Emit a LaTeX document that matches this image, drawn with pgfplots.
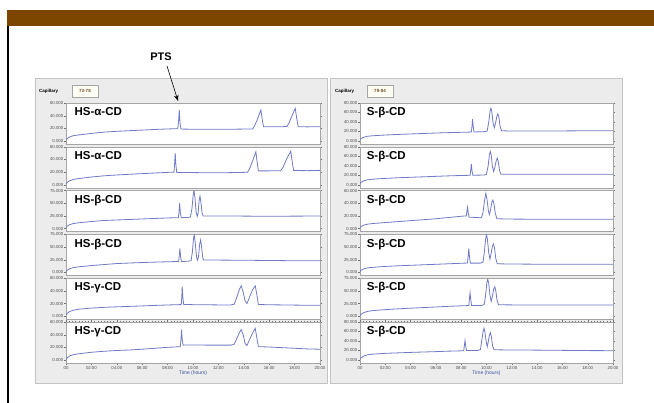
\documentclass[border=0pt]{standalone}
\usepackage{pgfplots}
\pgfplotsset{compat=1.18}
\usepackage{fontspec}
\setmainfont{Liberation Sans}
\usetikzlibrary{arrows.meta}
\definecolor{brownbar}{RGB}{124,70,0}
\definecolor{trc}{RGB}{112,122,198}
\definecolor{panelbg}{RGB}{236,236,236}
\definecolor{panelln}{RGB}{195,195,195}
\definecolor{framec}{RGB}{165,165,165}
\definecolor{xlabc}{RGB}{60,80,160}
\newcommand{\tk}{\fontsize{4.3}{5}\selectfont}
\newcommand{\lab}{\fontsize{11.5}{12}\selectfont\bfseries}
\pgfplotsset{
  strip/.style={scale only axis, height=41pt, xmin=0, xmax=20, anchor=north west,
    axis background/.style={fill=white},
    axis line style={draw=framec, line width=0.4pt},
    xtick=\empty,
    tick align=outside, major tick length=2pt,
    tick style={black!55, line width=0.3pt},
    yticklabel style={font=\tk, text=black!70, inner sep=0.6pt,
      /pgf/number format/.cd, fixed, fixed zerofill, precision=3, 1000 sep={}, assume math mode=true},
  },
  L/.style={strip, width=254pt, at={(66pt,#1pt)}},
  R/.style={strip, width=253pt, at={(360pt,#1pt)}},
  s60/.style={ymin=-4.74, ymax=60, ytick={0,20,40,60}},
  s75/.style={ymin=-5.92, ymax=75, ytick={0,25,50,75}},
  s80/.style={ymin=-6.32, ymax=80, ytick={0,20,40,60,80}},
  bottom/.style={xtick={0,2,...,20},
    xticklabels={00,02:00,04:00,06:00,08:00,10:00,12:00,14:00,16:00,18:00,20:00},
    minor x tick num=7, minor tick length=1pt,
    xticklabel style={font=\tk, text=black!70, inner sep=1pt,
      /pgf/number format/assume math mode=true},
    xlabel={Time (hours)},
    xlabel style={font=\fontsize{5}{6}\selectfont, text=xlabc, inner sep=1pt, yshift=1pt}},
  tr/.style={trc, line width=0.8pt, mark=none},
}
\begin{document}
\begin{tikzpicture}
\useasboundingbox (0,0) rectangle (654pt,403pt);
\fill[white] (0,0) rectangle (654pt,403pt);
\fill[brownbar] (7pt,393pt) rectangle (654pt,377pt);
\draw[black, line width=1.1pt] (8pt,377pt) -- (8pt,0pt);
% panels
\filldraw[fill=panelbg, draw=panelln, line width=0.8pt] (35pt,325pt) rectangle (327pt,20pt);
\filldraw[fill=panelbg, draw=panelln, line width=0.8pt] (330pt,325pt) rectangle (622pt,20pt);
\node[font=\fontsize{4.5}{5}\selectfont\bfseries, anchor=west, inner sep=0] at (39pt,312pt) {Capillary};
\filldraw[fill=yellow!4, draw=black!35, line width=0.3pt] (72pt,318pt) rectangle (98pt,306pt);
\node[font=\fontsize{4.5}{5}\selectfont\bfseries, text=brown!60!black, inner sep=0] at (85pt,312pt) {73-78};
\node[font=\fontsize{4.5}{5}\selectfont\bfseries, anchor=west, inner sep=0] at (335pt,312pt) {Capillary};
\filldraw[fill=yellow!4, draw=black!35, line width=0.3pt] (367pt,318pt) rectangle (393pt,306pt);
\node[font=\fontsize{4.5}{5}\selectfont\bfseries, text=brown!60!black, inner sep=0] at (380pt,312pt) {79-84};
% PTS
\node[font=\fontsize{11}{12}\selectfont\bfseries, inner sep=0] at (161pt,346pt) {PTS};
\draw[black, line width=0.6pt, -{Stealth[length=6pt,width=4.5pt]}] (167pt,337pt) -- (178pt,302pt);

% ---------------- LEFT PANEL ----------------
\begin{axis}[L=300, s60]
\addplot[tr] coordinates {(0,1.5)(0.1,4)(0.3,6.5)(0.6,8.5)(1,9.5)(2,12)(3,14)(4,15.3)(5,16.3)(6,17.2)(7,18.2)(8,19)(8.8,19.5)(8.86,30)(8.92,49)(8.98,28)(9.05,18.8)(10,18.6)(11,18.4)(12,18.5)(13,18.6)(14,18.8)(14.7,19)(14.85,24)(15.05,33)(15.25,44)(15.35,49)(15.45,34)(15.55,22.5)(16,22.5)(17,22.5)(17.4,23)(17.55,28)(17.8,40)(18.05,51.5)(18.15,38)(18.28,22.5)(19,22.3)(20,22.5)};
\node[font=\lab, anchor=base west, inner sep=0] at (rel axis cs:0.033,0.69) {HS-α-CD};
\end{axis}
\begin{axis}[L=256.2, s60]
\addplot[tr] coordinates {(0,1)(0.1,4)(0.3,6.5)(0.6,8.5)(1,9.8)(2,12.3)(3,14.2)(4,15.5)(5,16.6)(6,17.6)(7,18.6)(8,19.6)(8.5,20)(8.55,32)(8.6,50)(8.66,30)(8.72,19.5)(9.5,19.5)(10,19.3)(11,19)(12,19)(13,19.2)(14,19.6)(14.3,20)(14.45,25)(14.7,38)(14.95,52)(15.05,36)(15.15,22)(16,22)(16.9,22.3)(17.1,28)(17.4,42)(17.7,53)(17.8,38)(17.92,22.5)(19,22.3)(20,22.8)};
\node[font=\lab, anchor=base west, inner sep=0] at (rel axis cs:0.033,0.69) {HS-α-CD};
\end{axis}
\begin{axis}[L=212.4, s75]
\addplot[tr] coordinates {(0,2)(0.1,5)(0.3,8)(0.6,10)(1,11.5)(2,14)(3,16)(4,17)(5,18)(6,19)(7,20)(8,21)(8.85,21.5)(8.9,33)(8.95,50)(9.0,32)(9.07,21.5)(9.6,22)(9.8,23)(9.92,40)(10.02,68)(10.08,75)(10.15,62)(10.25,32)(10.33,24)(10.4,30)(10.48,55)(10.55,64)(10.62,52)(10.72,30)(10.8,25)(11.5,24.8)(13,24.8)(15,24.5)(17,24.5)(19,24.7)(20,25)};
\node[font=\lab, anchor=base west, inner sep=0] at (rel axis cs:0.033,0.69) {HS-β-CD};
\end{axis}
\begin{axis}[L=168.6, s75]
\addplot[tr] coordinates {(0,1.5)(0.1,4.5)(0.3,7.5)(0.6,9.5)(1,11)(2,13.5)(3,15.5)(4,17.5)(5,18.5)(6,19.5)(7,20.3)(8,21)(8.87,21.5)(8.92,33)(8.97,47.5)(9.02,32)(9.09,21.5)(9.6,22)(9.85,23)(9.95,40)(10.04,67)(10.1,74)(10.17,60)(10.28,30)(10.36,24)(10.43,30)(10.52,55)(10.6,64)(10.67,52)(10.77,28)(10.85,24.5)(12,24.3)(14,24)(16,23.5)(18,23)(20,22.8)};
\node[font=\lab, anchor=base west, inner sep=0] at (rel axis cs:0.033,0.69) {HS-β-CD};
\end{axis}
\begin{axis}[L=124.8, s60]
\addplot[tr] coordinates {(0,1.5)(0.1,4.5)(0.3,7.5)(0.6,9.5)(1,11)(2,12.8)(3,14)(4,14.8)(5,15.5)(6,16.2)(7,17)(8,17.7)(9,18.3)(9.08,19)(9.12,32)(9.15,47)(9.2,30)(9.27,18.5)(10,18.2)(11,18)(12,17.8)(13,17.8)(13.25,19)(13.45,30)(13.65,42)(13.8,48)(13.95,38)(14.1,24)(14.25,20)(14.45,30)(14.7,42)(14.9,48)(15.02,35)(15.15,18.5)(16,18)(17,17.8)(18,17.5)(19,17.3)(20,17.2)};
\node[font=\lab, anchor=base west, inner sep=0] at (rel axis cs:0.033,0.69) {HS-γ-CD};
\end{axis}
\begin{axis}[L=81.0, s60, bottom]
\addplot[tr] coordinates {(0,0.5)(0.1,3.5)(0.3,6.5)(0.6,8.5)(1,9.8)(2,12.2)(3,13.8)(4,15)(5,15.8)(6,17)(7,18.5)(8,20)(9,21)(9.05,32)(9.1,48)(9.15,32)(9.22,23.5)(10,23.7)(11,23.5)(12,23.5)(13,23.5)(13.25,25)(13.45,34)(13.65,43)(13.8,48)(13.95,40)(14.1,26)(14.25,23)(14.45,32)(14.7,43)(14.9,50)(15.02,36)(15.15,21)(16,20.5)(17,19.5)(18,18.5)(19,17.5)(20,17)};
\node[font=\lab, anchor=base west, inner sep=0] at (rel axis cs:0.033,0.69) {HS-γ-CD};
\end{axis}

% ---------------- RIGHT PANEL ----------------
\begin{axis}[R=300, s80]
\addplot[tr] coordinates {(0,2)(0.1,5.5)(0.3,8)(0.6,10)(1,11)(2,12.6)(3,13.8)(4,14.8)(5,15.8)(6,16.8)(7,17.6)(8,18.3)(8.8,18.8)(8.85,30)(8.9,46)(8.95,30)(9.02,19)(9.8,19.5)(10.05,21)(10.18,40)(10.28,62)(10.35,69)(10.42,62)(10.52,38)(10.62,28)(10.72,38)(10.82,52)(10.9,57)(10.98,50)(11.08,30)(11.2,21.5)(12,21)(14,21)(16,21.2)(18,21.5)(20,21.7)};
\node[font=\lab, anchor=base west, inner sep=0] at (rel axis cs:0.026,0.69) {S-β-CD};
\end{axis}
\begin{axis}[R=256.2, s80]
\addplot[tr] coordinates {(0,2)(0.1,5.5)(0.3,8.5)(0.6,10.5)(1,11.8)(2,13.5)(3,14.8)(4,15.8)(5,16.8)(6,17.8)(7,18.8)(8,19.6)(8.7,20)(8.75,30)(8.8,44)(8.85,30)(8.92,20.2)(9.8,20.5)(10.0,22)(10.13,40)(10.23,63)(10.3,70)(10.37,63)(10.47,38)(10.57,28)(10.67,38)(10.77,51)(10.85,56)(10.93,49)(11.03,30)(11.15,22)(12,22)(14,22)(16,22.2)(18,22)(20,22)};
\node[font=\lab, anchor=base west, inner sep=0] at (rel axis cs:0.026,0.69) {S-β-CD};
\end{axis}
\begin{axis}[R=212.4, s60]
\addplot[tr] coordinates {(0,1.5)(0.1,3.5)(0.3,5.5)(0.6,7)(1,8)(2,9.5)(3,11)(4,12.5)(5,14)(6,15.5)(7,17.5)(8,19.5)(8.4,20)(8.45,27)(8.5,33.6)(8.55,26)(8.62,18)(9.2,17.5)(9.6,17)(9.72,25)(9.85,45)(9.95,55.7)(10.05,45)(10.15,28)(10.23,22)(10.32,30)(10.42,41)(10.5,45)(10.58,40)(10.7,24)(10.82,15.5)(12,15)(14,14.8)(16,14.8)(18,14.7)(20,14.7)};
\node[font=\lab, anchor=base west, inner sep=0] at (rel axis cs:0.026,0.69) {S-β-CD};
\end{axis}
\begin{axis}[R=168.6, s75]
\addplot[tr] coordinates {(0,1.5)(0.1,4.5)(0.3,7)(0.6,9)(1,10)(2,11.8)(3,13)(4,14)(5,15)(6,16)(7,17)(8,18)(8.5,18.5)(8.55,32)(8.6,47.5)(8.65,32)(8.72,18.3)(9.5,18.3)(9.72,20)(9.83,40)(9.93,66)(10,73.8)(10.07,66)(10.18,38)(10.27,26)(10.37,38)(10.47,52)(10.55,56)(10.63,49)(10.73,28)(10.85,17)(12,16.5)(14,16.2)(16,16)(18,16)(20,16)};
\node[font=\lab, anchor=base west, inner sep=0] at (rel axis cs:0.026,0.69) {S-β-CD};
\end{axis}
\begin{axis}[R=124.8, s75]
\addplot[tr] coordinates {(0,1)(0.1,4)(0.3,7)(0.6,9.5)(1,11)(2,13)(3,14.5)(4,15.8)(5,17)(6,18.2)(7,19.5)(8,20.5)(8.6,21)(8.65,34)(8.7,46.4)(8.75,34)(8.82,21)(9.6,21.2)(9.82,23)(9.93,42)(10.03,66)(10.1,72.8)(10.17,66)(10.28,40)(10.37,29)(10.47,40)(10.57,54)(10.65,58.2)(10.73,51)(10.83,32)(10.95,22.5)(12,22.3)(14,22)(16,22)(18,22)(20,22)};
\node[font=\lab, anchor=base west, inner sep=0] at (rel axis cs:0.026,0.69) {S-β-CD};
\end{axis}
\begin{axis}[R=81.0, s80, bottom]
\addplot[tr] coordinates {(0,1)(0.1,5)(0.3,8.5)(0.6,11)(1,12.3)(2,14)(3,15)(4,16)(5,16.8)(6,17.6)(7,18.6)(8,19.3)(8.2,19.6)(8.25,30)(8.3,40.7)(8.35,30)(8.42,19.8)(9.3,20)(9.52,22)(9.63,42)(9.73,60)(9.8,66.7)(9.87,60)(9.98,38)(10.06,28)(10.15,40)(10.23,52)(10.3,57.5)(10.38,50)(10.48,30)(10.6,21.5)(12,21)(14,20.8)(16,20.3)(18,19.8)(20,19.6)};
\node[font=\lab, anchor=base west, inner sep=0] at (rel axis cs:0.026,0.69) {S-β-CD};
\end{axis}
\end{tikzpicture}
\end{document}
